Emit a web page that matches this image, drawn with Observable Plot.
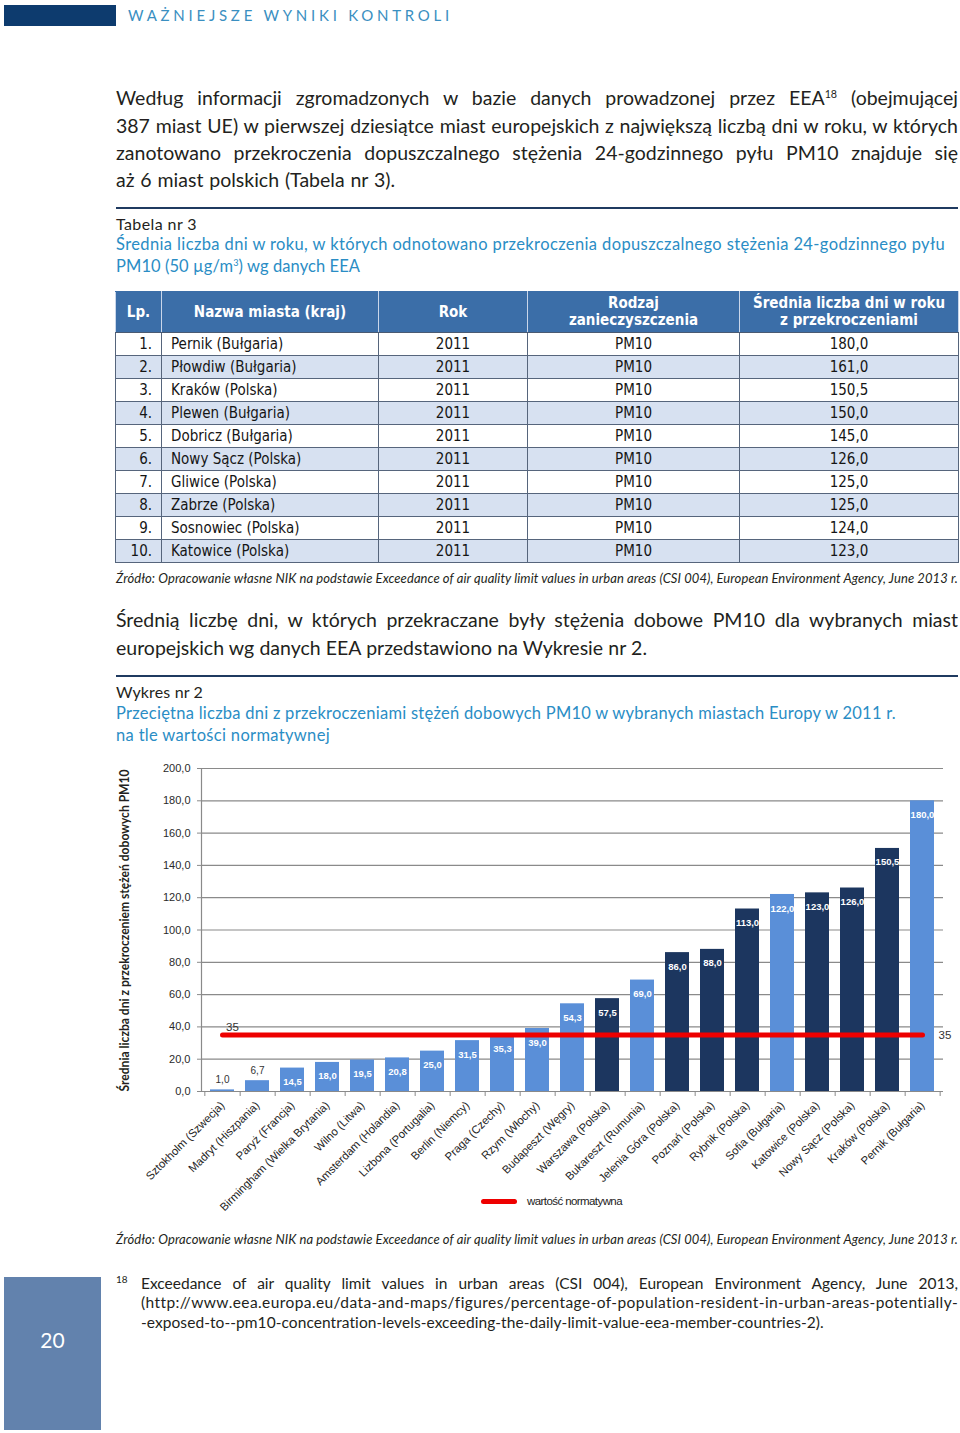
<!DOCTYPE html>
<html lang="pl">
<head>
<meta charset="utf-8">
<script src="https://cdn.jsdelivr.net/npm/d3@7"></script>
<script src="https://cdn.jsdelivr.net/npm/@observablehq/plot@0.6"></script>
<style>
html,body{margin:0;padding:0;background:#fff;}
#page{position:relative;width:960px;height:1433px;overflow:hidden;font-family:Lato,"Open Sans",sans-serif;color:#231f20;}
.ln{position:absolute;white-space:nowrap;line-height:1.2;}
.ln sup{font-size:0.55em;vertical-align:0.7em;line-height:0;}
.blue{color:#2a8dc5;}
.src{font-style:italic;font-size:13px;}
.rule{position:absolute;left:116px;width:842px;height:2px;background:#1f3a60;}
#tbl{position:absolute;left:115px;top:291px;border-collapse:collapse;table-layout:fixed;width:843px;
  font-family:"DejaVu Sans Condensed","DejaVu Sans",sans-serif;font-size:15px;color:#151515;}
#tbl th{background:#3b6ea8;color:#fff;font-weight:bold;height:40px;padding:0;line-height:17px;
  border-left:1px solid #c9d6ea;border-right:1px solid #c9d6ea;border-top:1px solid #3b6ea8;border-bottom:1px solid #4a5a72;text-align:center;font-size:15px;}
#tbl td{height:22px;padding:0;line-height:22px;border:1px solid #56657c;}
#tbl tr.z td{background:#d7e1f1;}
#tbl td.c0{text-align:right;padding-right:9px;}
#tbl td.c1{text-align:left;padding-left:9px;}
#tbl td.cc{text-align:center;}
#chart{position:absolute;left:0;top:755px;}
</style>
</head>
<body>
<div id="page">
  <div style="position:absolute;left:4px;top:5px;width:112px;height:21px;background:#0d3b6e;"></div>
  <div class="ln" style="left:128px;top:6px;font-size:15px;color:#3a8fc1;" data-w="325" data-mode="ls"><span>WAŻNIEJSZE WYNIKI KONTROLI</span></div>

  <div class="ln" style="left:116px;top:86px;font-size:19.5px;" data-w="842" data-mode="ws"><span>Według informacji zgromadzonych w bazie danych prowadzonej przez EEA<sup>18</sup> (obejmującej</span></div>
  <div class="ln" style="left:116px;top:114px;font-size:19.5px;" data-w="842" data-mode="ws"><span>387 miast UE) w pierwszej dziesiątce miast europejskich z największą liczbą dni w roku, w których</span></div>
  <div class="ln" style="left:116px;top:141px;font-size:19.5px;" data-w="842" data-mode="ws"><span>zanotowano przekroczenia dopuszczalnego stężenia 24-godzinnego pyłu PM10 znajduje się</span></div>
  <div class="ln" style="left:116px;top:168px;font-size:19.5px;" data-w="279" data-mode="ws"><span>aż 6 miast polskich (Tabela nr 3).</span></div>

  <div class="rule" style="top:207px;"></div>
  <div class="ln" style="left:116px;top:213.5px;font-size:16px;" data-w="81" data-mode="ls"><span>Tabela nr 3</span></div>
  <div class="ln blue" style="left:116px;top:234.5px;font-size:16.5px;" data-w="829" data-mode="ls"><span>Średnia liczba dni w roku, w których odnotowano przekroczenia dopuszczalnego stężenia 24-godzinnego pyłu</span></div>
  <div class="ln blue" style="left:116px;top:256.5px;font-size:16.5px;" data-w="244" data-mode="ls"><span>PM10 (50 µg/m<sup>3</sup>) wg danych EEA</span></div>

  <table id="tbl"></table>

  <div class="ln src" style="left:116px;top:570.5px;" data-w="842" data-mode="ls"><span>Źródło: Opracowanie własne NIK na podstawie Exceedance of air quality limit values in urban areas (CSI 004), European Environment Agency, June 2013 r.</span></div>

  <div class="ln" style="left:116px;top:608px;font-size:19.5px;" data-w="842" data-mode="ws"><span>Średnią liczbę dni, w których przekraczane były stężenia dobowe PM10 dla wybranych miast</span></div>
  <div class="ln" style="left:116px;top:636px;font-size:19.5px;" data-w="531" data-mode="ws"><span>europejskich wg danych EEA przedstawiono na Wykresie nr 2.</span></div>

  <div class="rule" style="top:675px;"></div>
  <div class="ln" style="left:116px;top:681.5px;font-size:16px;" data-w="87" data-mode="ls"><span>Wykres nr 2</span></div>
  <div class="ln blue" style="left:116px;top:703.5px;font-size:16.5px;" data-w="780" data-mode="ls"><span>Przeciętna liczba dni z przekroczeniami stężeń dobowych PM10 w wybranych miastach Europy w 2011 r.</span></div>
  <div class="ln blue" style="left:116px;top:725.5px;font-size:16.5px;" data-w="214" data-mode="ls"><span>na tle wartości normatywnej</span></div>

  <div id="chart"></div>

  <div style="position:absolute;left:481px;top:1199px;width:36px;height:5px;background:#ee0000;border-radius:2.5px;"></div>
  <div class="ln" style="left:527px;top:1194.5px;font-size:11.5px;font-family:'Liberation Sans',Arial,sans-serif;color:#222;" data-w="95" data-mode="ls"><span>wartość normatywna</span></div>

  <div class="ln src" style="left:116px;top:1231.5px;" data-w="842" data-mode="ls"><span>Źródło: Opracowanie własne NIK na podstawie Exceedance of air quality limit values in urban areas (CSI 004), European Environment Agency, June 2013 r.</span></div>

  <div style="position:absolute;left:4px;top:1277px;width:97px;height:153px;background:#6282ad;"></div>
  <div class="ln" style="left:4px;width:97px;text-align:center;top:1327px;font-size:21px;color:#fff;"><span>20</span></div>

  <div class="ln" style="left:116px;top:1273px;font-size:10px;"><span>18</span></div>
  <div class="ln" style="left:141px;top:1274px;font-size:15.5px;" data-w="817" data-mode="ws"><span>Exceedance of air quality limit values in urban areas (CSI 004), European Environment Agency, June 2013,</span></div>
  <div class="ln" style="left:141px;top:1293px;font-size:15.5px;" data-w="817" data-mode="ls"><span>(http://www.eea.europa.eu/data-and-maps/figures/percentage-of-population-resident-in-urban-areas-potentially-</span></div>
  <div class="ln" style="left:141px;top:1313px;font-size:15.5px;" data-w="683" data-mode="ls"><span>-exposed-to--pm10-concentration-levels-exceeding-the-daily-limit-value-eea-member-countries-2).</span></div>
</div>

<script>
// ---------- Table data (Tabela nr 3) ----------
const tableHeaders = ["Lp.", "Nazwa miasta (kraj)", "Rok", "Rodzaj<br>zanieczyszczenia", "Średnia liczba dni w roku<br>z przekroczeniami"];
const tableRank = ["1.", "2.", "3.", "4.", "5.", "6.", "7.", "8.", "9.", "10."];
const tableCity = ["Pernik (Bułgaria)", "Płowdiw (Bułgaria)", "Kraków (Polska)", "Plewen (Bułgaria)", "Dobricz (Bułgaria)",
  "Nowy Sącz (Polska)", "Gliwice (Polska)", "Zabrze (Polska)", "Sosnowiec (Polska)", "Katowice (Polska)"];
const tableYear = ["2011", "2011", "2011", "2011", "2011", "2011", "2011", "2011", "2011", "2011"];
const tablePollutant = ["PM10", "PM10", "PM10", "PM10", "PM10", "PM10", "PM10", "PM10", "PM10", "PM10"];
const tableDays = ["180,0", "161,0", "150,5", "150,0", "145,0", "126,0", "125,0", "125,0", "124,0", "123,0"];

// ---------- Chart data (Wykres nr 2) ----------
const cities = ["Sztokholm (Szwecja)", "Madryt (Hiszpania)", "Paryż (Francja)", "Birmingham (Wielka Brytania)",
  "Wilno (Litwa)", "Amsterdam (Holandia)", "Lizbona (Portugalia)", "Berlin (Niemcy)", "Praga (Czechy)",
  "Rzym (Włochy)", "Budapeszt (Węgry)", "Warszawa (Polska)", "Bukareszt (Rumunia)", "Jelenia Góra (Polska)",
  "Poznań (Polska)", "Rybnik (Polska)", "Sofia (Bułgaria)", "Katowice (Polska)", "Nowy Sącz (Polska)",
  "Kraków (Polska)", "Pernik (Bułgaria)"];
const days = [1.0, 6.7, 14.5, 18.0, 19.5, 20.8, 25.0, 31.5, 35.3, 39.0, 54.3, 57.5, 69.0, 86.0, 88.0,
  113.0, 122.0, 123.0, 126.0, 150.5, 180.0];
const countryGroup = ["inne", "inne", "inne", "inne", "inne", "inne", "inne", "inne", "inne", "inne", "inne",
  "Polska", "inne", "Polska", "Polska", "Polska", "inne", "Polska", "Polska", "Polska", "inne"];
const normValue = 35;
const yTicks = [0, 20, 40, 60, 80, 100, 120, 140, 160, 180, 200];
const yLabel = "Średnia liczba dni z przekroczeniem stężeń dobowych PM10";

// ---------- build table ----------
(function () {
  const tbl = document.getElementById("tbl");
  const widths = [46, 217, 149, 212, 219];
  let html = "<colgroup>" + widths.map(w => `<col style="width:${w}px">`).join("") + "</colgroup>";
  html += "<tr>" + tableHeaders.map(h => `<th>${h}</th>`).join("") + "</tr>";
  tableRank.forEach((r, i) => {
    html += `<tr class="${i % 2 ? "z" : ""}"><td class="c0">${r}</td><td class="c1">${tableCity[i]}</td>` +
      `<td class="cc">${tableYear[i]}</td><td class="cc">${tablePollutant[i]}</td><td class="cc">${tableDays[i]}</td></tr>`;
  });
  tbl.innerHTML = html;
})();

// ---------- chart ----------
const fmt = d => d.toFixed(1).replace(".", ",");
const rows = cities.map((c, i) => ({city: c, days: days[i], group: countryGroup[i]}));
const W = 960, H = 460, mL = 201, mR = 17, mT = 13, mB = 124;
const step = (W - mL - mR) / cities.length;
const axisGray = "#8a8a8a";

const chart = Plot.plot({
  width: W, height: H,
  marginLeft: mL, marginRight: mR, marginTop: mT, marginBottom: mB,
  style: {fontFamily: "'Liberation Sans', Arial, sans-serif", fontSize: "11px", color: "#2a2a2a", background: "transparent", overflow: "visible"},
  x: {domain: cities, paddingInner: 0.31, paddingOuter: 0.155, label: null},
  y: {domain: [0, 200], label: null},
  color: {domain: ["inne", "Polska"], range: ["#5a8fd8", "#1c365f"]},
  marks: [
    Plot.gridY(yTicks, {stroke: axisGray, strokeOpacity: 1, strokeWidth: 1.2}),
    Plot.barY(rows, {x: "city", y: "days", fill: "group"}),
    Plot.ruleY([0], {stroke: axisGray, strokeWidth: 1.2}),
    Plot.frame({anchor: "left", stroke: axisGray, strokeWidth: 1.2}),
    Plot.ruleX(cities, {x: d => d, y1: 0, y2: 0, insetBottom: -5, dx: step / 2, stroke: axisGray}),
    Plot.ruleX([cities[0]], {x: d => d, y1: 0, y2: 0, insetBottom: -5, dx: -step / 2, stroke: axisGray}),
    Plot.axisY(yTicks, {tickFormat: fmt, tickSize: 4, tickPadding: 7, stroke: axisGray, fontSize: 11, label: null}),
    Plot.axisX({tickRotate: -45, tickSize: 0, tickPadding: 12, fontSize: 11.3, label: null, fill: "#1e1e1e"}),
    Plot.lineY(rows, {x: "city", y: () => normValue, stroke: "#ee0000", strokeWidth: 5}),
    Plot.text([rows[0]], {x: "city", y: () => normValue, text: () => String(normValue), dx: 10, dy: -8, fontSize: 11.5, fill: "#333"}),
    Plot.text([rows[rows.length - 1]], {x: "city", y: () => normValue, text: () => String(normValue), dx: 16, textAnchor: "start", fontSize: 11.5, fill: "#333"}),
    Plot.text(rows.filter(d => d.days >= 10), {x: "city", y: "days", text: d => fmt(d.days), dy: 14, fill: "white", fontWeight: "bold", fontSize: 9.5}),
    Plot.text(rows.filter(d => d.days < 10), {x: "city", y: "days", text: d => fmt(d.days), dy: -10, fill: "#333", fontSize: 10}),
    Plot.text([yLabel], {text: d => d, frameAnchor: "bottom-left", rotate: -90, dx: -73, textAnchor: "start", fontWeight: "bold", fontSize: 13, fill: "#231f20", fontFamily: "Lato, 'Open Sans', sans-serif"})
  ]
});
document.getElementById("chart").appendChild(chart);
d3.select(chart).selectAll("text").filter(function () { return this.textContent === yLabel; })
  .attr("textLength", 322).attr("lengthAdjust", "spacingAndGlyphs");

// ---------- fit single text lines to measured widths ----------
function fitAll() {
  document.querySelectorAll(".ln[data-w]").forEach(el => {
    const span = el.firstElementChild;
    span.style.letterSpacing = "0px"; span.style.wordSpacing = "0px";
    const target = +el.dataset.w;
    const w = span.getBoundingClientRect().width;
    const text = span.textContent;
    const spaces = (text.match(/ /g) || []).length;
    if (el.dataset.mode === "ws" && spaces && (target - w) / spaces > -1.5) {
      span.style.wordSpacing = ((target - w) / spaces) + "px";
    } else {
      span.style.letterSpacing = ((target - w) / [...text].length) + "px";
    }
  });
}
fitAll();
if (document.fonts && document.fonts.ready) document.fonts.ready.then(fitAll);
</script>
</body>
</html>
